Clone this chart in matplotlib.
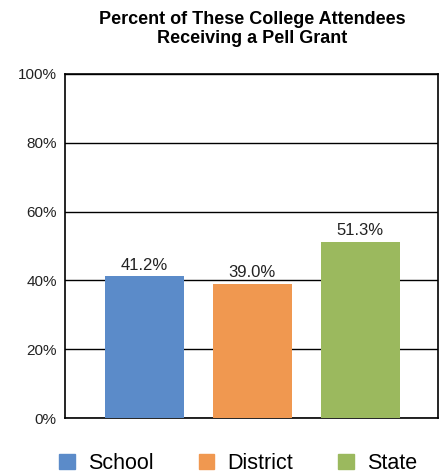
import matplotlib
matplotlib.use("Agg")
import matplotlib.pyplot as plt
from matplotlib.patches import Patch

plt.rcParams['font.family'] = ['Liberation Sans', 'DejaVu Sans']

categories = ["School", "District", "State"]
values = [41.2, 39.0, 51.3]
colors = ["#5b8bc9", "#f09850", "#9bb95e"]
yticks = [0, 20, 40, 60, 80, 100]

fig = plt.figure(figsize=(4.45, 4.74), dpi=100)
ax = fig.add_axes([0.146, 0.1181, 0.838, 0.7258])

x = list(range(len(categories)))
bars = ax.bar(x, values, width=0.73, color=colors, zorder=3)
for xi, v in zip(x, values):
    ax.text(xi, v + 1.0, f"{v:.1f}%", ha="center", va="bottom", fontsize=12, color="#222222")

ax.set_xlim(-0.736, 2.718)
ax.set_ylim(0, 100)
ax.set_yticks(yticks)
ax.set_yticklabels([f"{t}%" for t in yticks], fontsize=11, color="#222222")
ax.set_xticks([])
ax.tick_params(axis="y", length=0, pad=6)
ax.grid(axis="y", color="black", linewidth=1, zorder=1)
for s in ax.spines.values():
    s.set_color("black")
    s.set_linewidth(1.2)

fig.text(0.566, 0.939, "Percent of These College Attendees\nReceiving a Pell Grant",
         ha="center", va="center", fontsize=13, fontweight="bold", linespacing=1.15)

handles = [Patch(color=c) for c in colors]
fig.legend(handles, categories, loc="center", bbox_to_anchor=(0.535, 0.022), ncol=3,
           frameon=False, fontsize=15.5, handlelength=0.74, handleheight=0.74,
           columnspacing=2.1, handletextpad=0.6, borderpad=0, borderaxespad=0)

fig.savefig("out.png", dpi=100)
